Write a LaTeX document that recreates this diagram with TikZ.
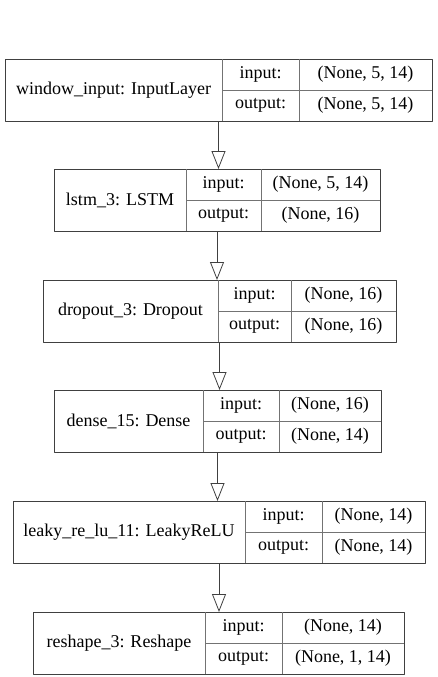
\documentclass[tikz,border=0pt]{standalone}
\usepackage{fontspec}
\setmainfont{Liberation Serif}
\usetikzlibrary{arrows.meta}

\begin{document}
\begin{tikzpicture}[
  x=1pt,
  y=-1pt,
  line join=round,
  frame/.style={draw=black!75,line width=0.8pt,anchor=north west,inner sep=0pt,outer sep=0pt},
  cell/.style={draw=black!55,line width=0.8pt},
  txt/.style={font=\fontsize{18}{20}\selectfont,inner sep=0pt},
  flow/.style={draw=black!75,line width=0.8pt,-{Triangle[open,length=18pt,width=14pt]}}
]
  \useasboundingbox (0,0) rectangle (437,677);

  % One record per layer: top, left edge, two column splits, right edge.
  \foreach \id/\ya/\xa/\xb/\xc/\xd/\lab/\inp/\outp in {
    win/59/5/222/299/432/{window\_input: InputLayer}/{(None, 5, 14)}/{(None, 5, 14)},
    lstm/169/54/186/261/380/{lstm\_3: LSTM}/{(None, 5, 14)}/{(None, 16)},
    drop/280/43/218/291/396/{dropout\_3: Dropout}/{(None, 16)}/{(None, 16)},
    dense/390/54/203/279/381/{dense\_15: Dense}/{(None, 16)}/{(None, 14)},
    leaky/501/13/245/322/425/{leaky\_re\_lu\_11: LeakyReLU}/{(None, 14)}/{(None, 14)},
    reshape/612/33/205/282/404/{reshape\_3: Reshape}/{(None, 14)}/{(None, 1, 14)}} {
    \node[frame,minimum width={(\xd-\xa)*1pt},minimum height=62pt] (\id) at (\xa,\ya) {};
    \draw[cell] (\xb,\ya) -- (\xb,{\ya+62});
    \draw[cell] (\xc,\ya) -- (\xc,{\ya+62});
    \draw[cell] (\xb,{\ya+31}) -- (\xd,{\ya+31});
    \node[txt] (\id-name) at ({(\xa+\xb)/2},{\ya+31}) {\lab};
    \node[txt] (\id-inkey) at ({(\xb+\xc)/2},{\ya+15.5}) {input:};
    \node[txt] (\id-outkey) at ({(\xb+\xc)/2},{\ya+46.5}) {output:};
    \node[txt] (\id-inval) at ({(\xc+\xd)/2},{\ya+15.5}) {\inp};
    \node[txt] (\id-outval) at ({(\xc+\xd)/2},{\ya+46.5}) {\outp};
  }

  % Data flow between consecutive layers.
  \foreach \a/\b in {win/lstm,lstm/drop,drop/dense,dense/leaky,leaky/reshape} {
    \draw[flow] (\a.south) -- (\a.south |- \b.north);
  }
\end{tikzpicture}
\end{document}
